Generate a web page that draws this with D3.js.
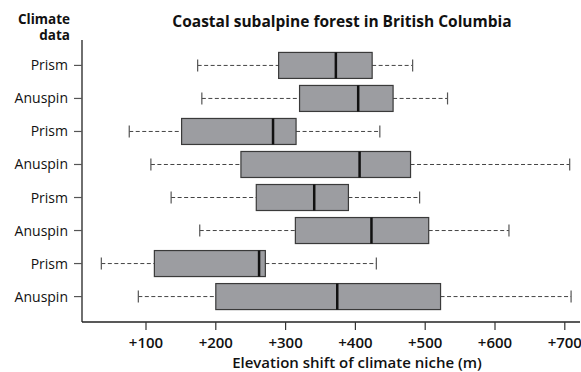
<!DOCTYPE html>
<html>
<head>
<meta charset="utf-8">
<script src="https://cdn.jsdelivr.net/npm/d3@7"></script>
<style>
  body { margin: 0; background: #fff; }
  text { font-family: "Open Sans", sans-serif; fill: #111; }
  .ylab { font-size: 14px; }
  .xlab { font-size: 15px; font-weight: 600; }
  .bold { font-weight: bold; }
</style>
</head>
<body>
<div id="chart"></div>
<script>
// rows top to bottom
var labels   = ["Prism", "Anuspin", "Prism", "Anuspin", "Prism", "Anuspin", "Prism", "Anuspin"];
var whiskLo  = [174, 180, 76, 107, 136, 177, 36, 89];
var q1       = [290, 320, 151, 236, 258, 314, 112, 200];
var medians  = [372, 404, 282, 406, 341, 423, 262, 374];
var q3       = [424, 454, 315, 479, 390, 505, 271, 522];
var whiskHi  = [482, 532, 435, 707, 492, 620, 430, 709];
var xTicks   = [100, 200, 300, 400, 500, 600, 700];

var W = 581, H = 372;
var svg = d3.select("#chart").append("svg").attr("width", W).attr("height", H);

var mLeft = 82, mRight = 580, mTop = 40, mBottom = 322;

var x = d3.scaleLinear().domain([0, 700]).range([76.2, 76.2 + 7 * 69.8]);
var y = d3.scaleBand().domain(d3.range(labels.length)).range([mTop, mBottom]).paddingInner(0.2).paddingOuter(0.37);
var bh = 26;

// axes lines
svg.append("line").attr("x1", mLeft).attr("x2", mLeft).attr("y1", mTop).attr("y2", mBottom)
  .attr("stroke", "#222").attr("stroke-width", 1.3);
svg.append("line").attr("x1", mLeft).attr("x2", mRight).attr("y1", mBottom).attr("y2", mBottom)
  .attr("stroke", "#222").attr("stroke-width", 1.3);

// x ticks
xTicks.forEach(function(t) {
  svg.append("line").attr("x1", x(t)).attr("x2", x(t)).attr("y1", mBottom).attr("y2", mBottom + 8)
    .attr("stroke", "#333").attr("stroke-width", 1.2);
  svg.append("text").attr("class", "xlab").attr("x", x(t)).attr("y", 348)
    .attr("text-anchor", "middle").text("+" + t);
});

// y ticks and labels
labels.forEach(function(l, i) {
  var cy = y(i) + y.bandwidth() / 2;
  svg.append("line").attr("x1", mLeft - 8).attr("x2", mLeft).attr("y1", cy).attr("y2", cy)
    .attr("stroke", "#555").attr("stroke-width", 1.2);
  svg.append("text").attr("class", "ylab").attr("x", 68).attr("y", cy + 5)
    .attr("text-anchor", "end").text(l);
});

// boxes
labels.forEach(function(l, i) {
  var cy = y(i) + y.bandwidth() / 2;
  var g = svg.append("g");
  // whiskers
  g.append("line").attr("x1", x(whiskLo[i])).attr("x2", x(q1[i])).attr("y1", cy).attr("y2", cy)
    .attr("stroke", "#444").attr("stroke-width", 1).attr("stroke-dasharray", "4,2.5");
  g.append("line").attr("x1", x(q3[i])).attr("x2", x(whiskHi[i])).attr("y1", cy).attr("y2", cy)
    .attr("stroke", "#444").attr("stroke-width", 1).attr("stroke-dasharray", "4,2.5");
  [whiskLo[i], whiskHi[i]].forEach(function(v) {
    g.append("line").attr("x1", x(v)).attr("x2", x(v)).attr("y1", cy - 6).attr("y2", cy + 6)
      .attr("stroke", "#555").attr("stroke-width", 1.2);
  });
  g.append("rect").attr("x", x(q1[i])).attr("y", cy - bh / 2)
    .attr("width", x(q3[i]) - x(q1[i])).attr("height", bh)
    .attr("fill", "#9c9da1").attr("stroke", "#3a3a3a").attr("stroke-width", 1.2);
  g.append("line").attr("x1", x(medians[i])).attr("x2", x(medians[i]))
    .attr("y1", cy - bh / 2).attr("y2", cy + bh / 2)
    .attr("stroke", "#111").attr("stroke-width", 2.5);
});

// titles
svg.append("text").attr("class", "bold").attr("x", 342).attr("y", 27)
  .attr("text-anchor", "middle").style("font-size", "15.5px")
  .text("Coastal subalpine forest in British Columbia");
svg.append("text").attr("class", "bold").attr("x", 70).attr("y", 24)
  .attr("text-anchor", "end").style("font-size", "13.5px").text("Climate");
svg.append("text").attr("class", "bold").attr("x", 70).attr("y", 40)
  .attr("text-anchor", "end").style("font-size", "13.5px").text("data");
svg.append("text").attr("class", "xlab").attr("x", 357).attr("y", 368)
  .attr("text-anchor", "middle").text("Elevation shift of climate niche (m)");
</script>
</body>
</html>
